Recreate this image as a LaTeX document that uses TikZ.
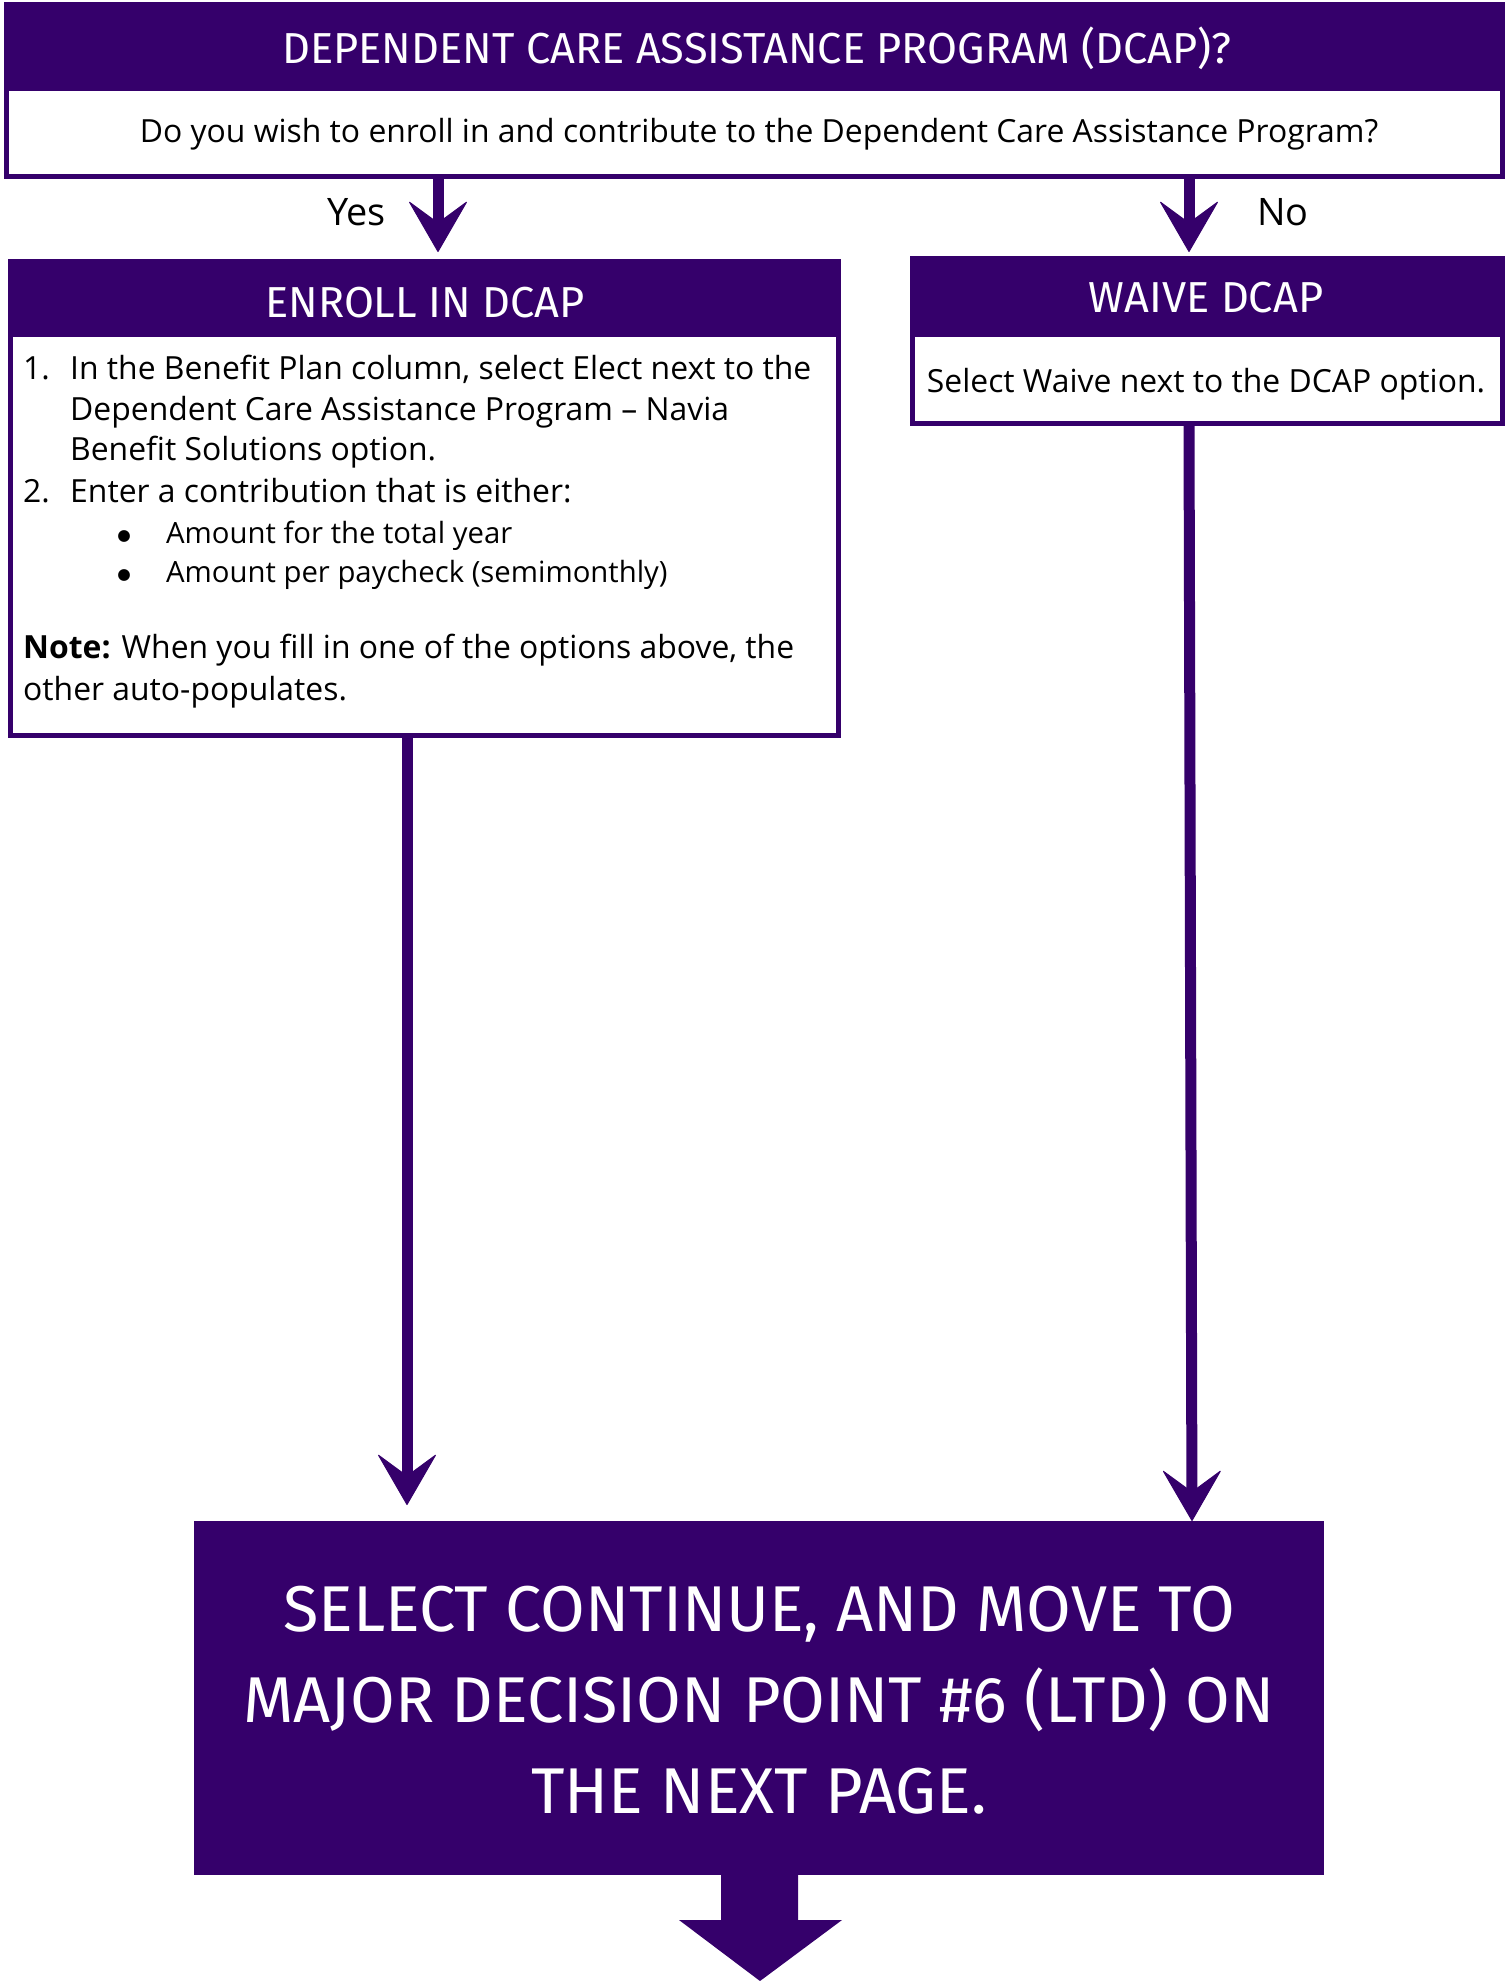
\documentclass[tikz,border=0pt]{standalone}
\usepackage{fontspec}
\setmainfont{Open Sans}
\newfontfamily\headfont{Fira Sans}
\newfontfamily\symfont{DejaVu Sans}
\usetikzlibrary{arrows.meta,calc}
\definecolor{dpurple}{RGB}{53,0,107}
\begin{document}
\begin{tikzpicture}[x=1bp,y=-1bp,
  frame/.style={draw=dpurple, line width=5bp, fill=white, outer sep=0pt, inner sep=0pt},
  headbar/.style={fill=dpurple, draw=none, outer sep=0pt, inner sep=0pt},
  headtxt/.style={text=white, font=\headfont\fontsize{43.5}{50}\selectfont, inner sep=0pt, anchor=base},
  bigtxt/.style={text=white, font=\headfont\fontsize{65}{70}\selectfont, inner sep=0pt, anchor=base},
  bodytxt/.style={text=black, inner sep=0pt, anchor=base west, font=\fontsize{32}{38}\selectfont},
  bultxt/.style={text=black, inner sep=0pt, anchor=base west, font=\fontsize{29.4}{35}\selectfont},
  bulmark/.style={text=black, inner sep=0pt, anchor=north, font=\symfont\fontsize{15.5}{18}\selectfont},
  conn/.style={draw=dpurple, line width=11bp, -{Stealth[length=52bp,width=60bp,inset=22bp,line width=1bp,round]}},
]
\useasboundingbox (0,0) rectangle (1512,1981);

% top question box
\node[frame, minimum width=1496bp, minimum height=172bp, anchor=north west] (q) at (6.5,4.5) {};
\node[headbar, minimum width=1501bp, minimum height=89bp, anchor=north west] (qh) at (4,2) {};
\node[headtxt] (qt) at (757,63) {DEPENDENT CARE ASSISTANCE PROGRAM (DCAP)?};
\node[bodytxt, anchor=base] (qq) at (759,142) {Do you wish to enroll in and contribute to the Dependent Care Assistance Program?};

\node[bodytxt, font=\fontsize{38}{44}\selectfont] (yes) at (327,225) {Yes};
\node[bodytxt, font=\fontsize{38}{44}\selectfont] (no) at (1257,225) {No};

% enroll box
\node[frame, minimum width=828bp, minimum height=474bp, anchor=north west] (e) at (10.5,261.5) {};
\node[headbar, minimum width=833bp, minimum height=78bp, anchor=north west] (eh) at (8,259) {};
\node[headtxt] (et) at (425,317) {ENROLL IN DCAP};
\node[bodytxt] (n1) at (23,379) {1.};
\node[bodytxt] (l1) at (70,379) {In the Benefit Plan column, select Elect next to the};
\node[bodytxt] (l2) at (70,420) {Dependent Care Assistance Program – Navia};
\node[bodytxt] (l3) at (70,460) {Benefit Solutions option.};
\node[bodytxt] (n2) at (23,502) {2.};
\node[bodytxt] (l4) at (70,502) {Enter a contribution that is either:};
\node[bulmark] (b1) at (124,530.5) {●};
\node[bultxt] (l5) at (166,543) {Amount for the total year};
\node[bulmark] (b2) at (124,569.5) {●};
\node[bultxt] (l6) at (166,582) {Amount per paycheck (semimonthly)};
\node[bodytxt] (l7) at (23,658) {\textbf{Note:} When you fill in one of the options above, the};
\node[bodytxt] (l8) at (23,700) {other auto-populates.};

% waive box
\node[frame, minimum width=590bp, minimum height=165bp, anchor=north west] (w) at (912.5,258.5) {};
\node[headbar, minimum width=595bp, minimum height=81bp, anchor=north west] (wh) at (910,256) {};
\node[headtxt] (wt) at (1206,312) {WAIVE DCAP};
\node[bodytxt, anchor=base] (wb) at (1206,392) {Select Waive next to the DCAP option.};

% final box
\node[fill=dpurple, draw=none, outer sep=0pt, inner sep=0pt, minimum width=1130bp, minimum height=354bp, anchor=north west] (fin) at (194,1521) {};
\node[bigtxt] (f1) at (759,1631) {SELECT CONTINUE, AND MOVE TO};
\node[bigtxt] (f2) at (759,1722) {MAJOR DECISION POINT \#6 (LTD) ON};
\node[bigtxt] (f3) at (759,1813) {THE NEXT PAGE.};

% x positions of connectors
\coordinate (xy) at (438,0);
\coordinate (xn) at (1189,0);
\coordinate (xe) at (407,0);
\coordinate (xw) at (1189,0);
\coordinate (xw2) at (1192,0);

\draw[conn] (q.south -| xy) -- ($(e.north -| xy)+(0,-9.5)$);
\draw[conn] (q.south -| xn) -- ($(w.north -| xn)+(0,-6.5)$);
\draw[conn] (e.south -| xe) -- ($(fin.north -| xe)+(0,-16)$);
\draw[conn] (w.south -| xw) -- (fin.north -| xw2);

% big block arrow out of final box
\fill[dpurple] ($(fin.south)+(-38,-1)$) -- ($(fin.south)+(39,-1)$) -- ($(fin.south)+(39,45)$) -- ($(fin.south)+(83,45)$)
  -- ($(fin.south)+(1,106)$) -- ($(fin.south)+(-80,45)$) -- ($(fin.south)+(-38,45)$) -- cycle;
\end{tikzpicture}
\end{document}
